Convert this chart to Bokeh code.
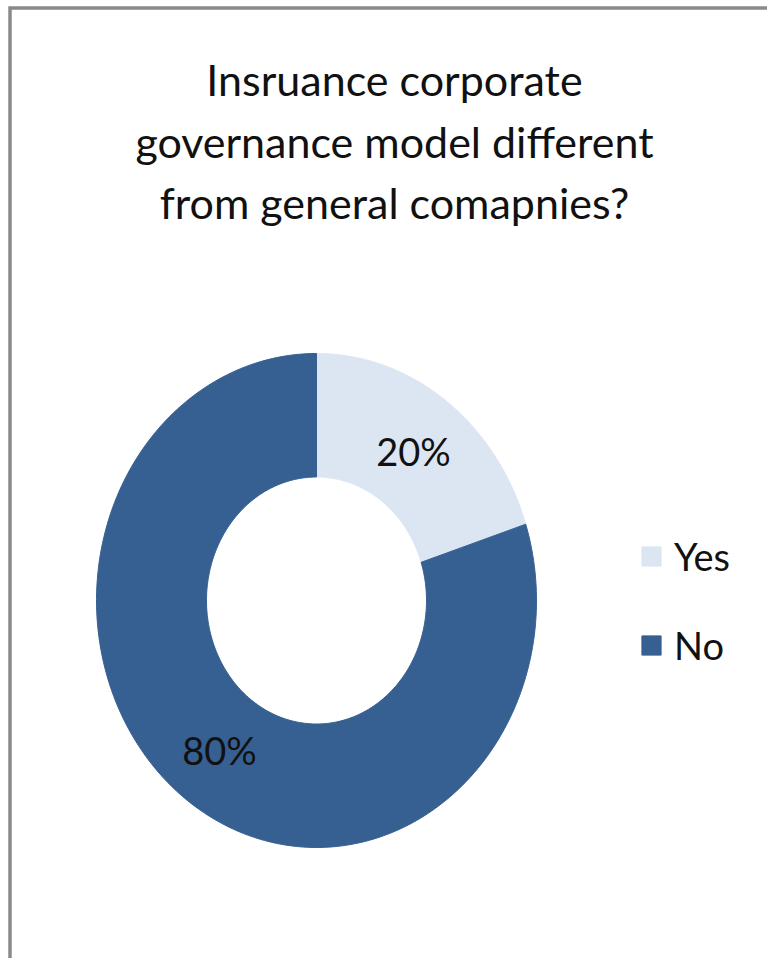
import numpy as np
from bokeh.plotting import figure
from bokeh.models import Range1d, Legend, LegendItem, ColumnDataSource
from bokeh.core.properties import value
from bokeh.embed import file_html
from bokeh.resources import INLINE

# ---- data ----
categories = ["Yes", "No"]
shares = [20, 80]
colors = ["#DCE6F2", "#376092"]
title_lines = ["Insruance corporate", "governance model different", "from general comapnies?"]

# ---- layout (pixels) ----
W, H = 767, 958
CX, CY = 316, 600      # donut centre
RX, RY = 220, 247      # outer radii
HOLE = 0.5             # inner / outer radius
LABEL_R = 0.75
FONT = "Lato"


def dx(px):
    return (px - CX) / RX


def dy(py):
    return (CY - py) / RY


p = figure(width=W, height=H, output_backend="svg", toolbar_location=None,
           x_range=Range1d(dx(0), dx(W)), y_range=Range1d(dy(H), dy(0)),
           x_axis_type=None, y_axis_type=None,
           min_border=0, min_border_left=0, min_border_right=0,
           min_border_top=0, min_border_bottom=0)
p.grid.visible = False
p.outline_line_color = None
p.background_fill_color = "white"
p.border_fill_color = "white"

# ---- donut slices (unit circle; the scales make it elliptical) ----
total = float(sum(shares))
cum = np.concatenate([[0.0], np.cumsum(shares) / total])
xs, ys, lx, ly, ltext = [], [], [], [], []
for i, v in enumerate(shares):
    t = np.linspace(cum[i], cum[i + 1], 200) * 2 * np.pi
    ox, oy = np.sin(t), np.cos(t)
    ix, iy = HOLE * np.sin(t[::-1]), HOLE * np.cos(t[::-1])
    xs.append(np.concatenate([ox, ix]).tolist())
    ys.append(np.concatenate([oy, iy]).tolist())
    m = (cum[i] + cum[i + 1]) / 2 * 2 * np.pi
    lx.append(LABEL_R * np.sin(m))
    ly.append(LABEL_R * np.cos(m))
    ltext.append(f"{v}%")

src = ColumnDataSource(dict(xs=xs, ys=ys, color=colors, label=categories))
r = p.patches("xs", "ys", source=src, fill_color="color", line_color="color", line_width=1)

p.text(x=lx, y=ly, text=ltext, text_align="center", text_baseline="middle",
       text_font=value(FONT), text_font_size="38px", text_color="#111111")

# ---- title ----
p.text(x=[dx(394)] * 3, y=[dy(79), dy(141), dy(202)], text=title_lines,
       text_align="center", text_baseline="alphabetic",
       text_font=value(FONT), text_font_size="43px", text_color="#111111")

# ---- frame (left and top edges only are visible) ----
p.line(x=[dx(9.5), dx(9.5), dx(W + 20)], y=[dy(H + 20), dy(7.5), dy(7.5)],
       line_color="#8a8a8a", line_width=3.5, line_join="miter")

# ---- legend ----
legend = Legend(items=[LegendItem(label=categories[i], renderers=[r], index=i) for i in range(len(categories))],
                location=(639, 290), orientation="vertical",
                glyph_width=24, glyph_height=24, label_standoff=11,
                label_text_font=FONT, label_text_font_size="38px", label_text_color="#111111",
                label_height=36, spacing=43, padding=0, margin=0,
                border_line_color=None, background_fill_alpha=0)
p.add_layout(legend)

open("out.html", "w").write(file_html(p, INLINE))
